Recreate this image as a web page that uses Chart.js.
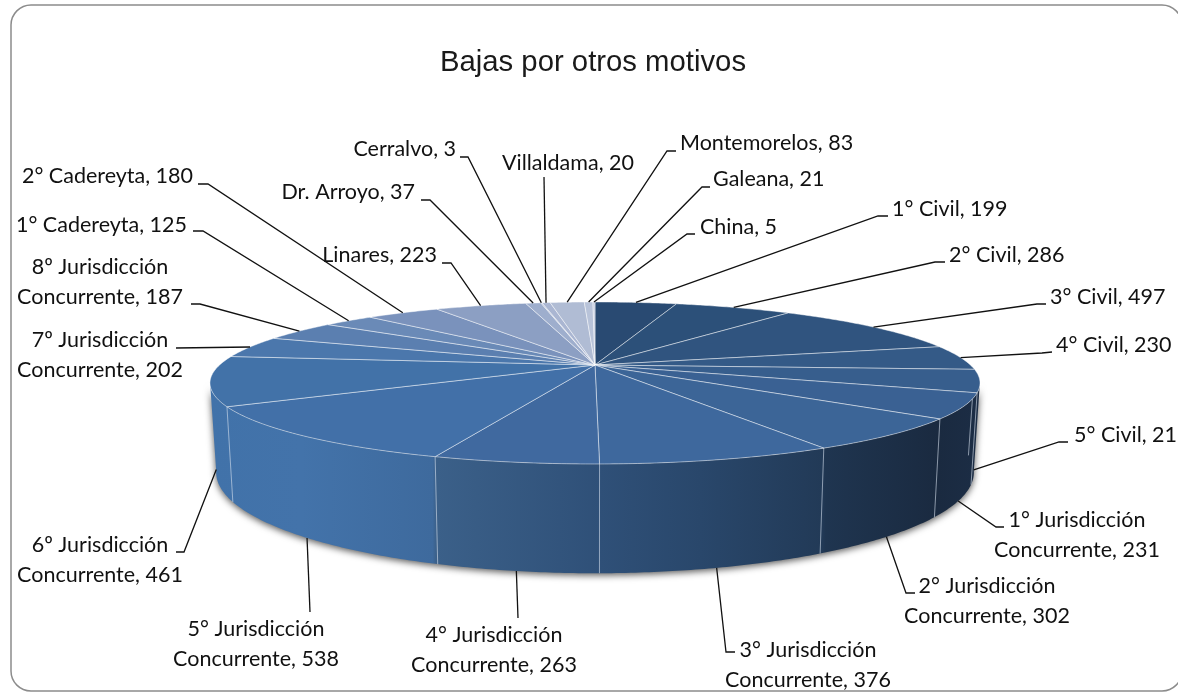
<!DOCTYPE html>
<html>
<head>
<meta charset="utf-8">
<title>Bajas por otros motivos</title>
<script src="https://cdn.jsdelivr.net/npm/chart.js@4"></script>
<style>
  html, body { margin: 0; padding: 0; background: #fff; overflow: hidden; }
  canvas { display: block; }
</style>
</head>
<body>
<canvas id="myChart" width="1178" height="693"></canvas>
<script>
var chartTitle = "Bajas por otros motivos";

var categories = ["1° Civil", "2° Civil", "3° Civil", "4° Civil", "5° Civil",
  "1° Jurisdicción Concurrente", "2° Jurisdicción Concurrente", "3° Jurisdicción Concurrente",
  "4° Jurisdicción Concurrente", "5° Jurisdicción Concurrente", "6º Jurisdicción Concurrente",
  "7º Jurisdicción Concurrente", "8º Jurisdicción Concurrente", "1° Cadereyta", "2° Cadereyta",
  "Linares", "Dr. Arroyo", "Cerralvo", "Villaldama", "Montemorelos", "Galeana", "China"];
var values = [199, 286, 497, 230, 213, 231, 302, 376, 263, 538, 461, 202, 187, 125, 180, 223, 37, 3, 20, 83, 21, 5];

var sliceColors = ["#294a72", "#2c5079", "#30547f", "#345a87", "#375e8d", "#3a6193", "#3c6597", "#3e689d",
  "#40699f", "#4270a8", "#4272a8", "#4b77ac", "#5b7fb0", "#6a8ab7", "#7a92bc", "#8c9fc3",
  "#9eaecd", "#a5b3d0", "#aab6d2", "#b0bcd4", "#b8c3d9", "#c2cbdf"];

// wall lighting, left to right across the pie
var wallStops = [[0, "#4172a9"], [0.12, "#4373aa"], [0.29, "#3e6a9d"], [0.295, "#3b6089"], [0.507, "#2f5078"],
  [0.637, "#29476b"], [0.795, "#223a57"], [0.8, "#1f3550"], [0.945, "#1a2a40"], [1, "#1c2d45"]];

// label anchor [x, baseline, align], then the leader stub start and knee
var labelLayout = [
  [892, 216, "left", 888, 216, 878, 216],
  [949, 262, "left", 945, 262, 935, 262],
  [1050, 304, "left", 1046, 304, 1037, 304],
  [1056, 352, "left", 1052, 352, 1042, 353],
  [1074, 442, "left", 1068, 442, 1059, 442],
  [1077, 527, "center", 1004, 527, 996, 527],
  [987, 593, "center", 915, 593, 906, 593],
  [808, 657, "center", 735, 652, 726, 652],
  [494, 642, "center", 518, 618, 518, 618],
  [256, 636, "center", 310, 612, 310, 612],
  [100, 552, "center", 176, 552, 184, 552],
  [100, 347, "center", 176, 348, 176, 348],
  [100, 274, "center", 191, 304, 200, 304],
  [187, 232, "right", 193, 231, 203, 231],
  [193, 183, "right", 198, 184, 208, 184],
  [437, 262, "right", 442, 263, 451, 263],
  [415, 199, "right", 421, 200, 430, 200],
  [456, 156, "right", 460, 157, 468, 157],
  [634, 170, "right", 544, 177, 544, 177],
  [680, 150, "left", 676, 151, 667, 151],
  [713, 186, "left", 710, 187, 702, 187],
  [700, 234, "left", 695, 234, 687, 234]
];

var cx = 595, cy = 365, rx = 375.4, ry = 77, tilt = 0.222, depth = 85;

// project a pie angle (radians from 12 o'clock, clockwise) onto the tilted disc; z 0 = top face, 1 = bottom
function project(theta, z) {
  var u = Math.sin(theta), v = -Math.cos(theta);
  var w = 1 / (1 - tilt * v);
  return [cx + rx * u * w * (1 - 0.016 * z), cy + ry * v * w + depth * w * z];
}

function ringPath(ctx, a, b, z, first) {
  var steps = Math.max(2, Math.ceil(Math.abs(b - a) / 0.01));
  for (var i = 0; i <= steps; i++) {
    var p = project(a + (b - a) * i / steps, z);
    if (i == 0 && first) ctx.moveTo(p[0], p[1]); else ctx.lineTo(p[0], p[1]);
  }
}

var wallFrom = 102 * Math.PI / 180, wallTo = 258 * Math.PI / 180;

var pie3d = {
  id: "pie3d",
  beforeDraw: function (chart) {
    var ctx = chart.ctx;
    ctx.save();
    ctx.fillStyle = "#fff";
    ctx.fillRect(0, 0, chart.width, chart.height);
    ctx.strokeStyle = "#8c8c8c";
    ctx.lineWidth = 1.5;
    ctx.beginPath();
    ctx.roundRect(11, 5, 1171, 686, 20);
    ctx.stroke();
    ctx.fillStyle = "#1a1a1a";
    ctx.font = "29.3px 'Liberation Sans'";
    ctx.textAlign = "center";
    ctx.fillText(chartTitle, 593, 71);
    ctx.restore();
  },
  beforeDatasetsDraw: function (chart) {
    var ctx = chart.ctx;
    var arcs = chart.getDatasetMeta(0).data;
    var i, a, b;
    ctx.save();

    // body of the pie with its soft shadow
    var grad = ctx.createLinearGradient(209, 0, 980, 0);
    wallStops.forEach(function (s) { grad.addColorStop(s[0], s[1]); });
    ctx.save();
    ctx.shadowColor = "rgba(0,0,0,0.65)";
    ctx.shadowBlur = 7;
    ctx.shadowOffsetY = 2;
    ctx.fillStyle = grad;
    ctx.beginPath();
    ringPath(ctx, wallFrom, wallTo, 0, true);
    ringPath(ctx, wallTo, wallFrom, 1, false);
    ctx.closePath();
    ctx.fill();
    ctx.restore();

    // seams on the wall
    ctx.strokeStyle = "rgba(215,225,238,0.6)";
    ctx.lineWidth = 1;
    for (i = 0; i < arcs.length; i++) {
      a = arcs[i].startAngle + Math.PI / 2;
      if (a > wallFrom - 0.2 && a < wallTo) {
        var p0 = project(a, 0), p1 = project(a, 1);
        ctx.beginPath();
        ctx.moveTo(p0[0], p0[1]);
        ctx.lineTo(p1[0], p1[1]);
        ctx.stroke();
      }
    }

    // top face
    for (i = 0; i < arcs.length; i++) {
      a = arcs[i].startAngle + Math.PI / 2;
      b = arcs[i].endAngle + Math.PI / 2;
      ctx.fillStyle = sliceColors[i];
      ctx.strokeStyle = "rgba(255,255,255,0.45)";
      ctx.beginPath();
      ctx.moveTo(cx, cy);
      ringPath(ctx, a, b, 0, false);
      ctx.closePath();
      ctx.fill();
      ctx.stroke();
    }

    // leader lines and labels
    ctx.font = "21.5px Lato";
    for (i = 0; i < arcs.length; i++) {
      var mid = (arcs[i].startAngle + arcs[i].endAngle) / 2 + Math.PI / 2;
      var front = Math.cos(mid) < 0;
      var end = project(mid, front ? 1 : 0);
      var l = labelLayout[i];
      ctx.strokeStyle = "#111";
      ctx.lineWidth = 1.3;
      ctx.beginPath();
      ctx.moveTo(l[3], l[4]);
      ctx.lineTo(l[5], l[6]);
      ctx.lineTo(end[0], end[1]);
      ctx.stroke();

      var lines = (categories[i] + ", " + values[i]).split(/ (?=Concurrente)/);
      ctx.fillStyle = "#111";
      ctx.textAlign = l[2];
      lines.forEach(function (t, n) { ctx.fillText(t, l[0], l[1] + n * 29.5); });
    }
    ctx.restore();
    return false;
  }
};

new Chart("myChart", {
  type: "pie",
  data: {
    labels: categories,
    datasets: [{ data: values, backgroundColor: sliceColors }]
  },
  options: {
    responsive: false,
    animation: false,
    events: [],
    plugins: { legend: { display: false }, tooltip: { enabled: false } }
  },
  plugins: [pie3d]
});
</script>
</body>
</html>
